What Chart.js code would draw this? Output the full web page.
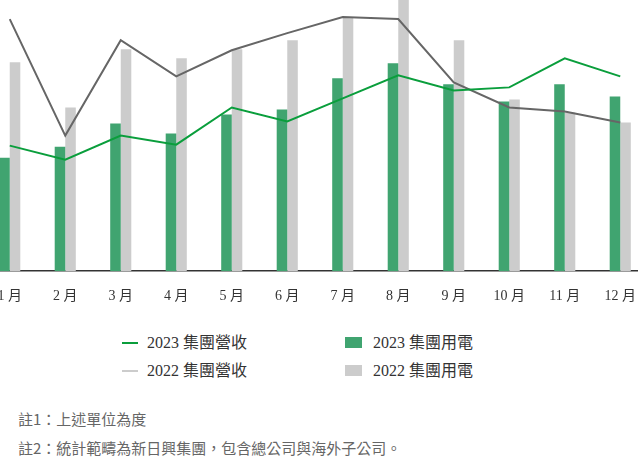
<!DOCTYPE html>
<html>
<head>
<meta charset="utf-8">
<script src="https://cdn.jsdelivr.net/npm/chart.js@4"></script>
<style>
    html, body { margin: 0; padding: 0; background: #fff; overflow: hidden; }
    body { width: 638px; height: 458px; position: relative; }
    #wrap { position: absolute; left: -18px; top: 0; width: 666px; height: 314px; }
    .legend { position: absolute; font-family: "Liberation Serif", "Noto Sans CJK TC", serif; font-size: 16px; color: #333; white-space: nowrap; }
    .legend .item { position: absolute; height: 20px; line-height: 20px; }
    .legend .line { position: absolute; width: 16px; height: 2px; top: 9px; left: 0; }
    .legend .box { position: absolute; width: 17px; height: 11px; top: 4px; left: 0; }
    .legend .txt { position: absolute; top: 0; }
    .note { position: absolute; left: 18px; font-family: "Noto Sans CJK TC", "Noto Sans", sans-serif; font-size: 15px; color: #666; white-space: nowrap; }
</style>
</head>
<body>
<div id="wrap"><canvas id="chart"></canvas></div>

<div class="legend">
    <div class="item" style="left:122px; top:333px;"><span class="line" style="background:#0a9e3c;"></span><span class="txt" style="left:25px;">2023 集團營收</span></div>
    <div class="item" style="left:122px; top:361px;"><span class="line" style="background:#cccccc;"></span><span class="txt" style="left:25px;">2022 集團營收</span></div>
    <div class="item" style="left:345px; top:333px;"><span class="box" style="background:#40a470;"></span><span class="txt" style="left:28px;">2023 集團用電</span></div>
    <div class="item" style="left:345px; top:361px;"><span class="box" style="background:#cccccc;"></span><span class="txt" style="left:28px;">2022 集團用電</span></div>
</div>

<div class="note" style="top:408px;">註1：上述單位為度</div>
<div class="note" style="top:437px;">註2：統計範疇為新日興集團，包含總公司與海外子公司。</div>

<script>
// 月份
var months = ['1 月', '2 月', '3 月', '4 月', '5 月', '6 月', '7 月', '8 月', '9 月', '10 月', '11 月', '12 月'];

// 用電 (長條)
var power2023 = [113, 124, 147, 137, 156, 161, 192, 207, 186, 169, 186, 174];
var power2022 = [208, 163, 221, 212, 221, 230, 252, 290, 230, 171, 158, 148];

// 營收 (折線)
var revenue2023 = [125, 111, 135, 126, 163, 149, 172, 195, 180, 183, 212, 194];
var revenue2022 = [251, 135, 230, 194, 220, 237, 253, 251, 188, 163, 159, 148];

var canvas = document.getElementById('chart');
var ctx = canvas.getContext('2d');

new Chart(ctx, {
    type: 'bar',
    data: {
        labels: months,
        datasets: [
            {
                type: 'line',
                label: '2023 集團營收',
                data: revenue2023,
                borderColor: '#0a9e3c',
                borderWidth: 2,
                pointRadius: 0,
                tension: 0,
                fill: false,
                order: 1
            },
            {
                type: 'line',
                label: '2022 集團營收',
                data: revenue2022,
                borderColor: '#666666',
                borderWidth: 2,
                pointRadius: 0,
                tension: 0,
                fill: false,
                order: 1
            },
            {
                label: '2023 集團用電',
                data: power2023,
                backgroundColor: '#40a470',
                borderWidth: 0,
                categoryPercentage: 0.38,
                barPercentage: 1.0,
                order: 2
            },
            {
                label: '2022 集團用電',
                data: power2022,
                backgroundColor: '#cccccc',
                borderWidth: 0,
                categoryPercentage: 0.38,
                barPercentage: 1.0,
                order: 2
            }
        ]
    },
    options: {
        responsive: true,
        maintainAspectRatio: false,
        animation: false,
        layout: { padding: { left: 0, right: 0, top: 0, bottom: 0 } },
        plugins: {
            legend: { display: false },
            tooltip: { enabled: false }
        },
        scales: {
            x: {
                grid: { display: false },
                border: { display: true, color: '#333333', width: 1.5 },
                ticks: {
                    color: '#333333',
                    padding: 9,
                    maxRotation: 0,
                    font: { family: '"Liberation Serif", "Noto Sans CJK TC", serif', size: 14 }
                }
            },
            y: {
                display: false,
                min: 0,
                max: 270
            }
        }
    }
});
</script>
</body>
</html>
